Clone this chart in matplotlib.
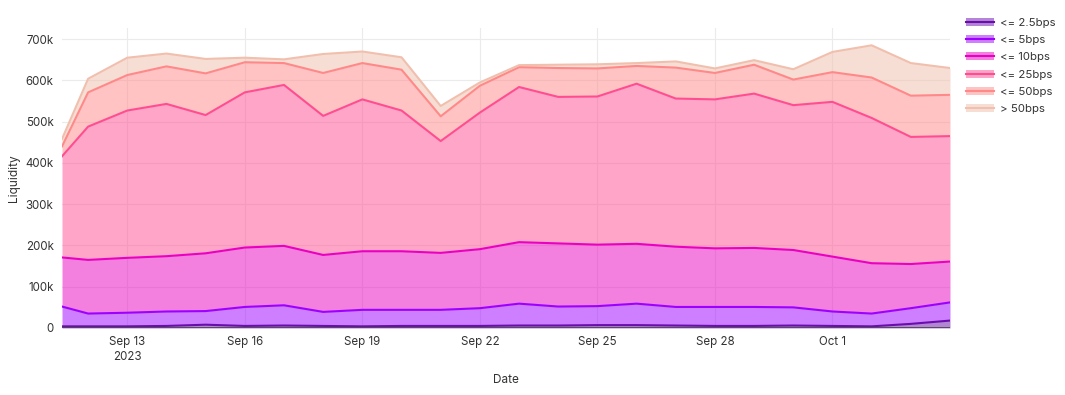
import numpy as np
import pandas as pd
import matplotlib
matplotlib.use("Agg")
import matplotlib.pyplot as plt
from matplotlib.patches import Patch
from matplotlib.lines import Line2D

plt.rcParams['font.family'] = ['Inter', 'DejaVu Sans']

# first sample is a partial day, the rest are daily
dates = [pd.Timestamp("2023-09-11 08:00")] + list(pd.date_range("2023-09-12", "2023-10-04", freq="D"))

# liquidity per bucket, in thousands
b_2_5 = [4, 4, 4, 5, 8, 5, 6, 5, 4, 5, 5, 5, 6, 6, 7, 7, 6, 5, 5, 6, 5, 4, 10, 18]
b_5 = [48, 31, 33, 35, 33, 46, 49, 34, 40, 39, 39, 43, 53, 46, 46, 52, 45, 46, 46, 44, 35, 31, 38, 44]
b_10 = [119, 130, 133, 134, 140, 144, 144, 138, 142, 142, 138, 143, 149, 153, 149, 145, 146, 142, 143, 139, 133, 122, 107, 99]
b_25 = [245, 323, 357, 369, 335, 376, 390, 337, 368, 341, 271, 331, 376, 355, 359, 388, 359, 361, 374, 351, 375, 352, 308, 304]
b_50 = [24, 83, 86, 91, 101, 73, 53, 104, 88, 99, 60, 65, 48, 70, 68, 43, 75, 64, 70, 62, 72, 98, 100, 100]
b_over = [18, 33, 42, 31, 35, 11, 9, 46, 28, 30, 25, 8, 5, 8, 10, 7, 15, 11, 11, 25, 49, 78, 79, 65]

names = ["<= 2.5bps", "<= 5bps", "<= 10bps", "<= 25bps", "<= 50bps", "> 50bps"]
colors = ["#6a0dad", "#9d00ff", "#e900c1", "#ff4d91", "#ff8989", "#f1bfad"]

series = np.array([b_2_5, b_5, b_10, b_25, b_50, b_over], dtype=float) * 1000
tops = np.cumsum(series, axis=0)

fig = plt.figure(figsize=(10.65, 3.95), dpi=100)
ax = fig.add_axes([62 / 1065, 1 - 328 / 395, (950 - 62) / 1065, 300 / 395])

bottom = np.zeros(len(dates))
for i in range(len(names)):
    ax.fill_between(dates, bottom, tops[i], color=colors[i], alpha=0.5, linewidth=0, zorder=2)
    bottom = tops[i]
for i in range(len(names)):
    ax.plot(dates, tops[i], color=colors[i], linewidth=1.5, zorder=3)

ax.set_xlim(dates[0], dates[-1])
ax.set_ylim(0, 727000)

yt = np.arange(0, 800000, 100000)
ax.set_yticks(yt)
ax.set_yticklabels(["0"] + ["%dk" % (v // 1000) for v in yt[1:]])

xt = pd.to_datetime(["2023-09-13", "2023-09-16", "2023-09-19", "2023-09-22",
                     "2023-09-25", "2023-09-28", "2023-10-01"])
ax.set_xticks(xt)
ax.set_xticklabels(["Sep 13\n2023", "Sep 16", "Sep 19", "Sep 22", "Sep 25", "Sep 28", "Oct 1"],
                   linespacing=1.3)

ax.tick_params(length=0, labelsize=8.3, pad=6)
for lab in ax.get_xticklabels() + ax.get_yticklabels():
    lab.set_color("#333333")
ax.grid(True, color="#ebebeb", linewidth=0.8, zorder=0)
ax.set_axisbelow(True)
for s in ["top", "right", "left", "bottom"]:
    ax.spines[s].set_visible(False)
ax.axhline(0, color="#444444", linewidth=1.2, zorder=4)

ax.set_xlabel("Date", fontsize=8.5, color="#333333", labelpad=8)
ax.set_ylabel("Liquidity", fontsize=8.5, color="#333333", labelpad=4)

handles = []
for c in colors:
    handles.append((Patch(facecolor=c, alpha=0.5, edgecolor="none"),
                    Line2D([0], [0], color=c, linewidth=1.5)))
fig.legend(handles, names, loc="upper left", bbox_to_anchor=(966 / 1065, 1 - 18 / 395),
           frameon=False, fontsize=8.2, handlelength=2.5, handleheight=0.7,
           labelspacing=0.63, handletextpad=0.45, borderpad=0, borderaxespad=0,
           labelcolor="#333333")

fig.savefig("out.png", dpi=100)
